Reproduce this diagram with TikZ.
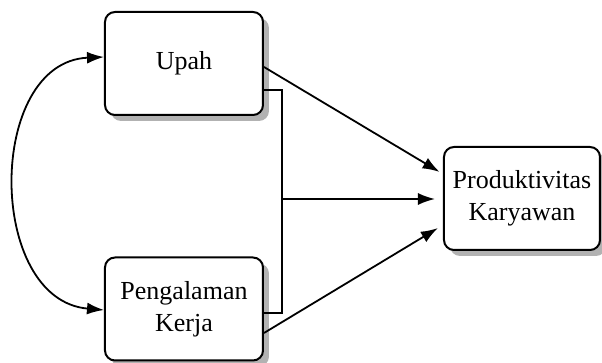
\documentclass[tikz,border=0pt]{standalone}
\usepackage{fontspec}
\setmainfont{Liberation Serif}
\usetikzlibrary{arrows.meta,calc,shadows}
\begin{document}
\begin{tikzpicture}[x=0.5pt,y=-0.5pt,
  box/.style={draw=black,line width=1pt,rounded corners=5pt,fill=white,
    minimum width=79pt,minimum height=51.5pt,align=center,inner sep=2pt,
    font=\fontsize{13}{16}\selectfont,
    drop shadow={shadow xshift=3pt,shadow yshift=-3pt,fill=black!30,opacity=1}},
  conn/.style={line width=0.9pt},
  arr/.style={conn,-{Latex[length=8.5pt,width=6pt]}}]
\useasboundingbox (0,0) rectangle (602,363);
\node[box] (u) at (184,63.5) {Upah};
\node[box] (p) at (184,309) {Pengalaman\\Kerja};
\node[box,minimum width=78pt] (k) at (522,198.5) {Produktivitas\\Karyawan};
\coordinate (j1) at (282,90);
\coordinate (j2) at (282,313);
\coordinate (jm) at (282,199);
\draw[conn] ($(u.east)+(0,26.5)$) -- (j1) -- (j2) -- ($(p.east)+(0,4)$);
\draw[arr,shorten >=2pt] ($(u.east)+(0,3.5)$) -- ($(k.west)+(0,-24.5)$);
\draw[arr,shorten >=4pt] (jm) -- (k.west |- jm);
\draw[arr,shorten >=3pt] ($(p.east)+(0,24)$) -- ($(k.west)+(0,26.5)$);
\draw[conn,{Latex[length=8.5pt,width=6pt]}-{Latex[length=8.5pt,width=6pt]}]
  ($(p.west)+(0,1)$) .. controls (-14,300) and (-14,62) .. ($(u.west)+(0,-6.5)$);
\end{tikzpicture}
\end{document}
